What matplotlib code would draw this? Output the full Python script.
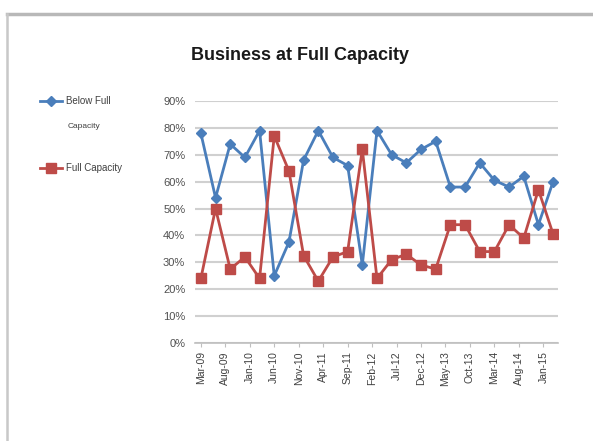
import numpy as np
import matplotlib.pyplot as plt
from matplotlib.lines import Line2D
from matplotlib.ticker import FuncFormatter

# quarterly survey, Mar-09 .. Mar-15 (months since Mar-09)
months = np.arange(0, 73, 3)
below_full = [78, 54, 74, 69, 79, 25, 37.5, 68, 79, 69, 66, 29, 79, 70, 67,
              72, 75, 58, 58, 67, 60.5, 58, 62, 44, 60]
full_cap = [24, 50, 27.5, 32, 24, 77, 64, 32.5, 23, 32, 34, 72, 24, 31, 33,
            29, 27.5, 44, 44, 34, 34, 44, 39, 57, 40.5]

tick_months = np.arange(0, 71, 5)
tick_labels = ["Mar-09", "Aug-09", "Jan-10", "Jun-10", "Nov-10", "Apr-11", "Sep-11",
               "Feb-12", "Jul-12", "Dec-12", "May-13", "Oct-13", "Mar-14", "Aug-14", "Jan-15"]

blue = "#4a7ebb"
red = "#be4b48"

plt.rcParams['font.family'] = ['Liberation Sans', 'DejaVu Sans']

W, H = 593, 441
fig = plt.figure(figsize=(W / 100, H / 100), dpi=100)
ax = fig.add_axes([195 / W, 1 - 343 / H, (558 - 195) / W, (343 - 101) / H])

ax.plot(months, below_full, color=blue, lw=2.0, marker="D", ms=5.5,
        mfc=blue, mec=blue, zorder=3)
ax.plot(months, full_cap, color=red, lw=2.0, marker="s", ms=7,
        mfc=red, mec=red, zorder=3)

ax.set_ylim(0, 90)
ax.set_yticks(np.arange(0, 91, 10))
ax.yaxis.set_major_formatter(FuncFormatter(lambda v, p: f"{v:.0f}%"))
ax.set_xlim(-1.2, 73)
ax.set_xticks(tick_months)
ax.set_xticklabels(tick_labels, rotation=90, fontsize=7.5, color="#404040")
ax.tick_params(axis="y", length=0, labelsize=8, labelcolor="#505050", pad=7)
ax.tick_params(axis="x", length=3, color="#bfbfbf", pad=3)

ax.grid(axis="y", color="#d0d0d0", lw=1.5)
ax.set_axisbelow(True)
for s in ["top", "right", "left"]:
    ax.spines[s].set_visible(False)
ax.spines["bottom"].set_color("#bfbfbf")
ax.spines["bottom"].set_linewidth(1.2)

fig.text(300 / W, 1 - 55 / H, "Business at Full Capacity", ha="center", va="center",
         fontsize=13, fontweight="bold", color="#1a1a1a")

# legend drawn by hand, Excel style
def fx(x):
    return x / W

def fy(y):
    return 1 - y / H

for y, c, m, ms in [(101, blue, "D", 5), (168, red, "s", 6.5)]:
    fig.add_artist(Line2D([fx(40), fx(62)], [fy(y), fy(y)], color=c, lw=2.0))
    fig.add_artist(Line2D([fx(51)], [fy(y)], color=c, marker=m, ms=ms, mfc=c, mec=c))
fig.text(fx(66), fy(101), "Below Full", fontsize=7, va="center", color="#404040")
fig.text(fx(68), fy(126), "Capacity", fontsize=6, va="center", color="#404040")
fig.text(fx(66), fy(168), "Full Capacity", fontsize=7, va="center", color="#404040")

# screenshot frame
fig.add_artist(Line2D([fx(7), 1], [fy(14), fy(14)], color="#b8b8b8", lw=2.5))
fig.add_artist(Line2D([fx(7), fx(7)], [fy(14), 0], color="#c8c8c8", lw=1.8))

fig.savefig("out.png", dpi=100)
